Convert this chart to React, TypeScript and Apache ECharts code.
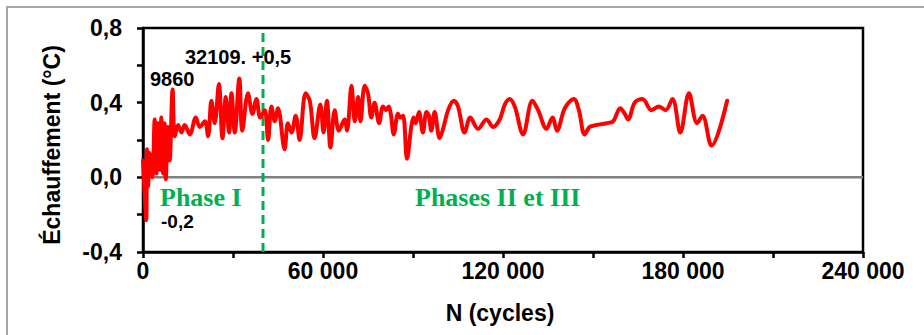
import React, { useEffect, useRef } from "react";
import * as echarts from "echarts";

const cycles = [0, 600, 1100, 1300, 1700, 2200, 3100, 3900, 4500, 5000, 5800, 6100, 6700, 7200, 7600, 8300, 8900, 9860, 10600, 11700, 12800, 13900, 15600, 17600, 18900, 20600, 21700, 22800, 23900, 25300, 26500, 27600, 28700, 29500, 30600, 32100, 33100, 35000, 36500, 37800, 39100, 40600, 41700, 42800, 43900, 45000, 47200, 48300, 49500, 50900, 52200, 54200, 55600, 57200, 59100, 60200, 61300, 62500, 63900, 65300, 67200, 68000, 69500, 70600, 71700, 72500, 73900, 75000, 76100, 77200, 78700, 80000, 81000, 81900, 82600, 83600, 85000, 85800, 86700, 88000, 89500, 90200, 90900, 92000, 93300, 94500, 95300, 96100, 97200, 98900, 100200, 101700, 103600, 105000, 107200, 109100, 111700, 114500, 116700, 118900, 120600, 122200, 123900, 126700, 129800, 131700, 134500, 136500, 138000, 140600, 143600, 145300, 147200, 148900, 151100, 154500, 156700, 159100, 160600, 161700, 163900, 166500, 169500, 172000, 174200, 176500, 179100, 182000, 184700, 186500, 189500, 194700];

const warming = [0.09, -0.10, -0.23, 0.15, -0.05, 0.13, 0.00, 0.31, 0.02, 0.29, 0.04, 0.32, 0.02, 0.29, -0.01, 0.27, 0.09, 0.47, 0.22, 0.28, 0.24, 0.28, 0.23, 0.32, 0.27, 0.30, 0.22, 0.41, 0.29, 0.50, 0.21, 0.43, 0.24, 0.45, 0.24, 0.53, 0.25, 0.45, 0.34, 0.42, 0.32, 0.36, 0.20, 0.38, 0.30, 0.37, 0.15, 0.29, 0.24, 0.33, 0.20, 0.45, 0.41, 0.21, 0.39, 0.24, 0.41, 0.16, 0.36, 0.25, 0.31, 0.25, 0.49, 0.30, 0.43, 0.30, 0.49, 0.45, 0.32, 0.40, 0.29, 0.38, 0.36, 0.38, 0.34, 0.23, 0.34, 0.32, 0.33, 0.10, 0.28, 0.32, 0.29, 0.35, 0.24, 0.35, 0.33, 0.25, 0.35, 0.21, 0.27, 0.36, 0.41, 0.38, 0.24, 0.32, 0.26, 0.31, 0.27, 0.31, 0.39, 0.42, 0.38, 0.23, 0.41, 0.36, 0.26, 0.32, 0.25, 0.37, 0.42, 0.36, 0.23, 0.27, 0.28, 0.29, 0.30, 0.37, 0.34, 0.31, 0.40, 0.42, 0.36, 0.38, 0.36, 0.42, 0.24, 0.45, 0.29, 0.33, 0.17, 0.41];

const xTicks = { min: 0, max: 240000, interval: 30000, labelEvery: 60000 };
const yTicks = { min: -0.4, max: 0.8, interval: 0.2 };
const phaseBoundary = 40000;

const annotations = [
  { text: "9860", x: 150, y: 79, size: 20 },
  { text: "32109. +0,5", x: 185, y: 57, size: 20 },
  { text: "-0,2", x: 161, y: 221, size: 19 },
];
const phaseLabels = [
  { text: "Phase I", x: 160, y: 197 },
  { text: "Phases II et III", x: 415, y: 197 },
];

const SANS = "'Liberation Sans', Arial, sans-serif";
const SERIF = "'Liberation Serif', 'Times New Roman', serif";
const GREEN = "#00b050";

function fmtX(v: number) {
  if (v % xTicks.labelEvery !== 0) return "";
  if (v === 0) return "0";
  const s = String(v);
  return s.slice(0, s.length - 3) + " " + s.slice(-3);
}
function fmtY(v: number) {
  const k = Math.round(v * 10);
  if (Math.abs(k) % 4 !== 0) return "";
  return (k / 10).toFixed(1).replace(".", ",");
}

export default function App() {
  const ref = useRef<HTMLDivElement>(null);
  useEffect(() => {
    if (!ref.current) return;
    const chart = echarts.init(ref.current, null, { renderer: "svg" });
    const mainData = cycles.map((c, i) => [c, warming[i]]);
    chart.setOption({
      animation: false,
      backgroundColor: "#ffffff",
      grid: {
        left: 143,
        top: 28,
        width: 720,
        height: 224,
        show: true,
        borderColor: "#000",
        borderWidth: 2.5,
        backgroundColor: "transparent",
      },
      xAxis: {
        type: "value",
        min: xTicks.min,
        max: xTicks.max,
        interval: xTicks.interval,
        axisLine: { show: true, onZero: false, lineStyle: { color: "#000", width: 2.5 } },
        axisTick: { show: true, length: 6, lineStyle: { color: "#000", width: 2.5 } },
        splitLine: { show: false },
        axisLabel: {
          formatter: fmtX,
          color: "#000",
          fontFamily: SANS,
          fontWeight: "bold",
          fontSize: 23,
          margin: 7,
          showMaxLabel: true,
          showMinLabel: true,
        },
      },
      yAxis: {
        type: "value",
        min: yTicks.min,
        max: yTicks.max,
        interval: yTicks.interval,
        axisLine: { show: true, onZero: false, lineStyle: { color: "#000", width: 2.5 } },
        axisTick: { show: true, length: 6, lineStyle: { color: "#000", width: 2.5 } },
        splitLine: { show: false },
        axisLabel: {
          formatter: fmtY,
          color: "#000",
          fontFamily: SANS,
          fontWeight: "bold",
          fontSize: 23,
          margin: 21,
          showMaxLabel: true,
          showMinLabel: true,
        },
      },
      graphic: [
        {
          type: "rect",
          shape: { x: 7, y: 7, width: 940, height: 360 },
          style: { fill: "none", stroke: "#a6a6a6", lineWidth: 2 },
          silent: true,
        },
        {
          type: "text",
          x: 52,
          y: 145,
          rotation: Math.PI / 2,
          style: {
            text: "Échauffement (°C)",
            font: `bold 23px ${SANS}`,
            fill: "#000",
            textAlign: "center",
            textVerticalAlign: "middle",
          },
        },
        {
          type: "text",
          x: 500,
          y: 313,
          style: {
            text: "N (cycles)",
            font: `bold 23px ${SANS}`,
            fill: "#000",
            textAlign: "center",
            textVerticalAlign: "middle",
          },
        },
        ...annotations.map((a) => ({
          type: "text",
          x: a.x,
          y: a.y,
          z: 10,
          style: {
            text: a.text,
            font: `bold ${a.size}px ${SANS}`,
            fill: "#000",
            textAlign: "left",
            textVerticalAlign: "middle",
          },
        })),
        ...phaseLabels.map((p) => ({
          type: "text",
          x: p.x,
          y: p.y,
          z: 10,
          style: {
            text: p.text,
            font: `bold 26px ${SERIF}`,
            fill: GREEN,
            textAlign: "left",
            textVerticalAlign: "middle",
          },
        })),
      ],
      series: [
        {
          type: "line",
          name: "zero",
          data: [[xTicks.min, 0], [xTicks.max, 0]],
          symbol: "none",
          z: 1,
          silent: true,
          lineStyle: { color: "#808080", width: 2.5 },
        },
        {
          type: "line",
          name: "boundary",
          data: [[phaseBoundary, yTicks.min], [phaseBoundary, yTicks.max]],
          symbol: "none",
          z: 1,
          silent: true,
          lineStyle: { color: GREEN, width: 3, type: [9, 5] },
        },
        {
          type: "line",
          name: "Échauffement",
          data: mainData,
          symbol: "none",
          smooth: 0.35,
          z: 3,
          lineStyle: { color: "#ff0000", width: 4, join: "round", cap: "round" },
        },
      ],
    });
    return () => chart.dispose();
  }, []);
  return (
    <div
      ref={ref}
      style={{ position: "fixed", left: 0, top: 0, width: 924, height: 335 }}
    />
  );
}
